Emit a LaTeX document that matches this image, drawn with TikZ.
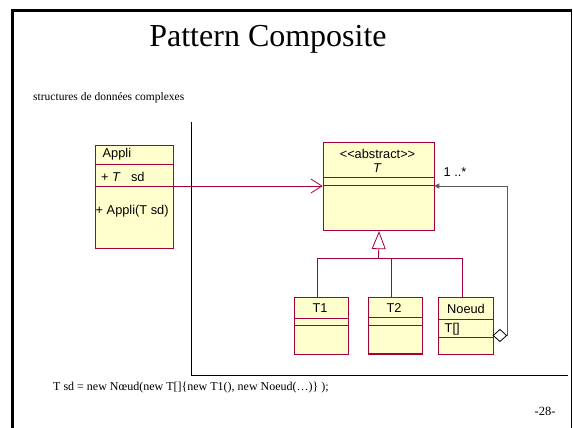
\documentclass[tikz,border=0pt]{standalone}
\usepackage{fontspec}
\setmainfont{Liberation Serif}
\setsansfont{Liberation Sans}
\usetikzlibrary{arrows.meta,shapes.geometric}
\definecolor{umlred}{RGB}{165,0,60}
\definecolor{umlfill}{RGB}{255,255,206}
\definecolor{linkgray}{RGB}{90,90,90}

\begin{document}
\begin{tikzpicture}[x = 1pt, y = -1pt,
	umlbox/.style = {draw = umlred, fill = umlfill, line width = 1.1pt, anchor = north west, inner sep = 0},
	umltext/.style = {font = \sffamily\fontsize{12.8}{14}\selectfont, inner sep = 0},
	divider/.style = {umlred, line width = 0.9pt},
	assoc/.style = {umlred, line width = 0.8pt, -{Straight Barb[length = 11pt, width = 14pt]}},
	link/.style = {linkgray, line width = 1pt, -{Triangle[length = 5pt, width = 5pt]}}]
		\useasboundingbox (0, 0) rectangle (573, 428);
		% slide frame
		\draw[line width = 2.6pt] (12.7, 428) -- (12.7, 10.3) -- (572, 10.3);
		\draw[line width = 1pt] (571.5, 10) -- (571.5, 428);
		\draw[line width = 0.8pt] (191, 122) -- (191, 375) -- (568, 375);
		\node[font = \fontsize{32}{36}\selectfont] (title) at (268, 39) {Pattern Composite};
		\node[anchor = west, font = \fontsize{11.5}{14}\selectfont, inner sep = 0] (subtitle) at (33, 98) {structures de donn\'ees complexes};
		\node[anchor = west, font = \fontsize{12}{15}\selectfont, inner sep = 0] (code) at (53, 388) {T sd = new N\oe ud(new T[]\{new T1(), new Noeud(\dots)\} );};
		\node[font = \fontsize{12.5}{15}\selectfont, inner sep = 0] (page) at (545, 411) {-28-};
		% classes
		\node[umlbox, minimum width = 78, minimum height = 103] (appli) at (94.7, 145.3) {};
		\node[umlbox, minimum width = 111.6, minimum height = 88.3] (tabs) at (322.7, 141.7) {};
		\node[umlbox, minimum width = 54.3, minimum height = 56.7] (tone) at (294, 297.3) {};
		\node[umlbox, minimum width = 54, minimum height = 56.7] (ttwo) at (368.3, 296.7) {};
		\node[umlbox, minimum width = 55, minimum height = 57] (noeud) at (437.7, 297) {};
		\foreach \y in {164, 186}
			\draw[divider] (94.7, \y) -- (172.7, \y);
		\foreach \y in {177.7, 185}
			\draw[divider] (322.7, \y) -- (434.3, \y);
		\foreach \y in {318.3, 325.7}
			\draw[divider] (294, \y) -- (348.3, \y);
		\foreach \y in {317.7, 325}
			\draw[divider] (368.3, \y) -- (422.3, \y);
		\foreach \y in {319, 337.7}
			\draw[divider] (437.7, \y) -- (492.7, \y);
		\node[umltext, anchor = west] (appliname) at (102.5, 154.5) {Appli};
		\node[umltext, anchor = west] (appliattr) at (101, 176.5) {+ \textit{T}\hspace{0.8em}sd};
		\node[umltext, anchor = west] (applimeth) at (95.5, 211.5) {+ Appli(T sd)};
		\node[umltext] (tstereo) at (377.5, 154) {<\kern0pt<abstract>\kern0pt>};
		\node[umltext] (tname) at (377.5, 168) {\textit{T}};
		\node[umltext] (tonename) at (320, 308.5) {T1};
		\node[umltext] (ttwoname) at (394, 308.5) {T2};
		\node[umltext] (noeudname) at (466, 309) {Noeud};
		\node[umltext, anchor = west] (noeudattr) at (444.5, 329) {T[]};
		% inheritance
		\coordinate (hub) at (378.5, 258.3);
		\draw[umlred, line width = 0.8pt, -{Triangle[fill = white, length = 18pt, width = 14pt]}] (hub) -- (tabs.south);
		\draw[umlred, line width = 0.8pt] ([xshift = -4.5pt]tone.north) |- (hub);
		\draw[umlred, line width = 0.8pt] ([xshift = -4.3pt]ttwo.north) |- (hub);
		\draw[umlred, line width = 0.8pt] ([xshift = -3.5pt]noeud.north) |- (hub);
		% associations
		\coordinate (tin) at (322.7, 186);
		\draw[assoc] (appli.east |- tin) -- (tin);
		\node[diamond, draw, fill = white, line width = 0.8pt, minimum width = 13.7, minimum height = 12.4, inner sep = 0] (agg) at (499.9, 335.5) {};
		\coordinate (tout) at (434.3, 186);
		\draw[link] (agg.east) -- ++(0.8, 0) |- (tout);
		\node[umltext] (mult) at (455, 172) {1 ..*};
	\end{tikzpicture}
\end{document}
